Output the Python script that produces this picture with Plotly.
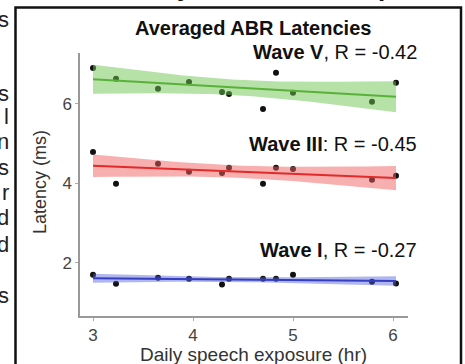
import numpy as np
import plotly.graph_objects as go

# ---- data ----
exposure_hr = [3.00, 3.23, 3.65, 3.96, 4.29, 4.36, 4.70, 4.83, 5.00, 5.79, 6.03]
wave_v = [6.90, 6.63, 6.38, 6.55, 6.30, 6.25, 5.87, 6.78, 6.28, 6.05, 6.53]
wave_iii = [4.79, 3.99, 4.49, 4.29, 4.26, 4.39, 3.99, 4.39, 4.36, 4.09, 4.19]
wave_i = [1.70, 1.47, 1.62, 1.60, 1.45, 1.60, 1.60, 1.60, 1.70, 1.52, 1.48]

series_names = ["Wave V", "Wave III", "Wave I"]
series_labels = ["<b>Wave V</b>, R = -0.42", "<b>Wave III</b>: R = -0.45", "<b>Wave I</b>, R = -0.27"]
series_values = [wave_v, wave_iii, wave_i]
line_colors = ["rgb(88,178,58)", "rgb(226,42,42)", "rgb(52,62,190)"]
band_colors = ["rgba(110,195,80,0.50)", "rgba(240,95,95,0.50)", "rgba(80,95,220,0.45)"]
label_y = [1.004, 0.655, 0.251]

x_ticks = [3, 4, 5, 6]
y_ticks = [2, 4, 6]
left_letters = ["s", "s", "l", "n", "s", "r", "d", "d", "s"]
left_letter_px = [20, 93, 116, 141, 167, 192, 218, 244, 295]

T_CRIT = 2.262  # 95% t quantile, df = 9

FONT = "Liberation Sans, Arial, sans-serif"
W, H = 465, 364
L, R, T, B = 80, 57, 53, 48
PW, PH = W - L - R, H - T - B


def px_x(px):
    return (px - L) / PW


def px_y(py):
    return (H - B - py) / PH


fig = go.Figure()
x = np.array(exposure_hr)
xs = np.linspace(x.min(), x.max(), 60)
for name, vals, lc, bc in zip(series_names, series_values, line_colors, band_colors):
    y = np.array(vals)
    fig.add_trace(go.Scatter(x=x, y=y, mode="markers", name=name,
                             marker=dict(color="#111", size=6), showlegend=False))
    slope, icpt = np.polyfit(x, y, 1)
    fit = icpt + slope * xs
    resid = y - (icpt + slope * x)
    n = len(x)
    s = np.sqrt(np.sum(resid ** 2) / (n - 2))
    se = s * np.sqrt(1 / n + (xs - x.mean()) ** 2 / np.sum((x - x.mean()) ** 2))
    lo, hi = fit - T_CRIT * se, fit + T_CRIT * se
    fig.add_trace(go.Scatter(x=np.concatenate([xs, xs[::-1]]), y=np.concatenate([hi, lo[::-1]]),
                             fill="toself", fillcolor=bc, line=dict(width=0),
                             mode="lines", showlegend=False, hoverinfo="skip"))
    fig.add_trace(go.Scatter(x=xs, y=fit, mode="lines", line=dict(color=lc, width=2),
                             showlegend=False))

annotations = [
    dict(text="<b>Averaged ABR Latencies</b>", x=px_x(253), y=px_y(28), xref="paper", yref="paper",
         showarrow=False, font=dict(size=20, color="#111", family=FONT), xanchor="center", yanchor="middle"),
    dict(text="Latency (ms)", x=px_x(40), y=px_y(182), xref="paper", yref="paper", textangle=-90,
         showarrow=False, font=dict(size=18, color="#333", family=FONT), xanchor="center", yanchor="middle"),
    dict(text="Daily speech exposure (hr)", x=px_x(253), y=px_y(354), xref="paper", yref="paper",
         showarrow=False, font=dict(size=19, color="#333", family=FONT), xanchor="center", yanchor="middle"),
]
for lab, ly in zip(series_labels, label_y):
    annotations.append(dict(text=lab, x=px_x(419), y=ly, xref="paper", yref="paper", showarrow=False,
                            font=dict(size=20, color="#111", family=FONT), xanchor="right", yanchor="middle"))
for ch, py in zip(left_letters, left_letter_px):
    annotations.append(dict(text=ch, x=px_x(11), y=px_y(py), xref="paper", yref="paper", showarrow=False,
                            font=dict(size=22, color="#222", family=FONT), xanchor="right", yanchor="middle"))
# cut-off text at the very top of the crop
for ch, px in [("y", 184), ("p", 386)]:
    annotations.append(dict(text="<b>" + ch + "</b>", x=px_x(px), y=px_y(3.5), xref="paper", yref="paper",
                            showarrow=False, font=dict(size=26, color="#111", family=FONT),
                            xanchor="center", yanchor="bottom"))

fig.update_layout(
    width=W, height=H, margin=dict(l=L, r=R, t=T, b=B),
    paper_bgcolor="white", plot_bgcolor="white",
    font=dict(family=FONT),
    annotations=annotations,
    shapes=[dict(type="rect", xref="paper", yref="paper", x0=px_x(15.5), x1=px_x(461), y0=px_y(380), y1=px_y(7.5),
                 line=dict(color="#111", width=2.5), layer="above")],
    xaxis=dict(range=[2.87, 6.15], tickvals=x_ticks, ticks="outside", ticklen=3, tickcolor="#aaa",
               showline=True, linecolor="#999", linewidth=1.5, showgrid=False, zeroline=False,
               tickfont=dict(size=17, color="#444", family=FONT)),
    yaxis=dict(range=[0.66, 7.28], tickvals=y_ticks, ticks="outside", ticklen=3, tickcolor="#aaa",
               showline=True, linecolor="#999", linewidth=1.5, showgrid=False, zeroline=False,
               tickfont=dict(size=17, color="#444", family=FONT)),
)
fig.write_html("out.html", config={"displayModeBar": False},
               post_script="document.body.style.margin='0';document.body.style.overflow='hidden';")
